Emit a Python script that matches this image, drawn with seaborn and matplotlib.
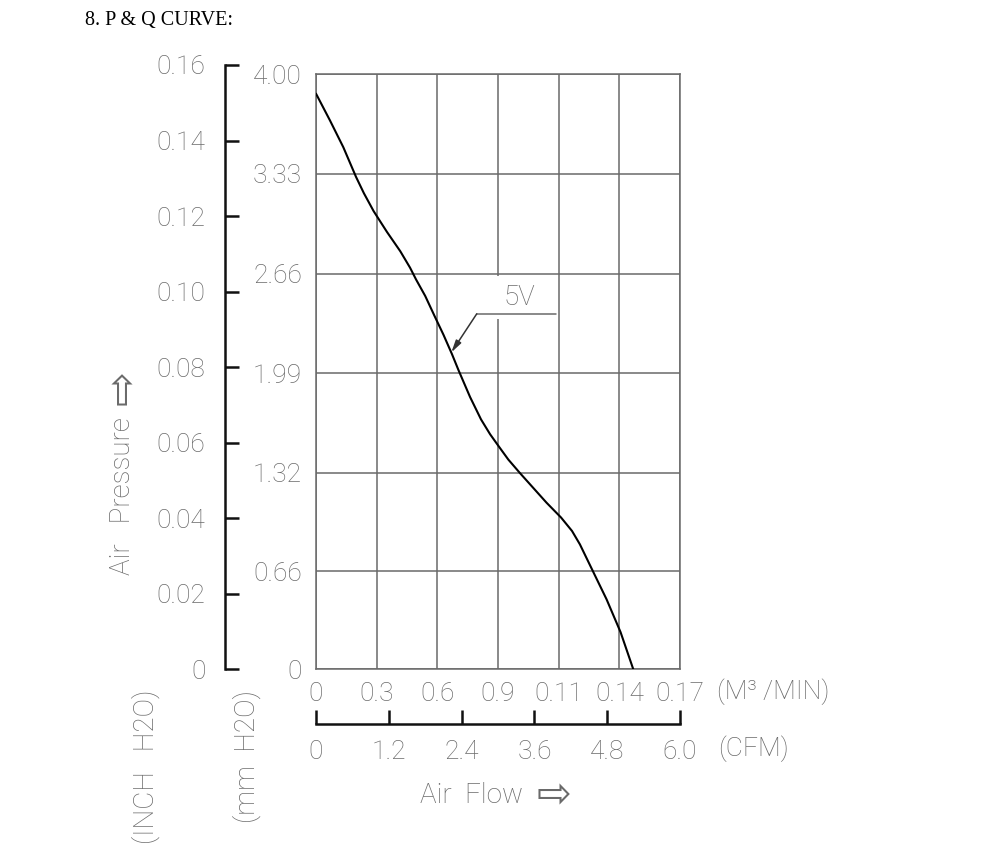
import matplotlib
matplotlib.use("Agg")
import matplotlib.pyplot as plt
import seaborn as sns
import pandas as pd

# P & Q curve (air flow in CFM, pressure in mm H2O)
flow_cfm = [0.0, 0.23, 0.45, 0.66, 0.79, 0.95, 1.17, 1.39, 1.55, 1.65, 1.80,
            1.96, 2.10, 2.24, 2.35, 2.54, 2.72, 2.87, 3.01, 3.17, 3.36, 3.58,
            3.80, 4.04, 4.22, 4.35, 4.54, 4.79, 5.02, 5.23]
pressure_mm = [3.87, 3.69, 3.51, 3.31, 3.20, 3.08, 2.94, 2.81, 2.70, 2.62, 2.51,
               2.37, 2.25, 2.12, 2.01, 1.83, 1.68, 1.58, 1.50, 1.41, 1.32, 1.22,
               1.12, 1.02, 0.93, 0.84, 0.68, 0.47, 0.25, 0.0]

# axis ticks and labels as printed on the drawing
mm_ticks = [0, 0.66, 1.32, 1.99, 2.66, 3.33, 4.00]
mm_labels = ["0", "0.66", "1.32", "1.99", "2.66", "3.33", "4.00"]
inch_ticks = [0, 0.02, 0.04, 0.06, 0.08, 0.10, 0.12, 0.14, 0.16]
inch_labels = ["0", "0.02", "0.04", "0.06", "0.08", "0.10", "0.12", "0.14", "0.16"]
grid_cfm = [0, 1, 2, 3, 4, 5, 6]
m3_labels = ["0", "0.3", "0.6", "0.9", "0.11", "0.14", "0.17"]
cfm_ticks = [0, 1.2, 2.4, 3.6, 4.8, 6.0]
cfm_labels = ["0", "1.2", "2.4", "3.6", "4.8", "6.0"]

curve = pd.DataFrame({"flow": flow_cfm, "pressure": pressure_mm})

sns.set_theme(style="white")
plt.rcParams["font.family"] = ["Roboto", "DejaVu Sans"]
plt.rcParams["font.weight"] = "light"

GRAY = "#6a6a6a"
FS = 19

fig = plt.figure(figsize=(10, 8.55), dpi=100)

# main grid box
ax = fig.add_axes([0.316, 0.2172, 0.364, 0.6959])
sns.lineplot(data=curve, x="flow", y="pressure", ax=ax, color="black",
             linewidth=1.5, zorder=5)
ax.set_xlim(0, 6)
ax.set_ylim(0, 4)
ax.set_xticks(grid_cfm)
ax.set_xticklabels(m3_labels)
ax.set_yticks(mm_ticks)
ax.set_yticklabels(mm_labels)
ax.set_xlabel("")
ax.set_ylabel("")
ax.grid(True, color=GRAY, linewidth=1.1)
ax.tick_params(axis="both", length=0, labelsize=FS, labelcolor=GRAY)
ax.tick_params(axis="x", pad=9)
ax.tick_params(axis="y", pad=10)
for s in ax.spines.values():
    s.set_color(GRAY)
    s.set_linewidth(1.1)

# 5V label with leader
ax.text(3.36, 2.50, "5V", fontsize=20, color=GRAY, ha="center", va="center",
        zorder=3, bbox=dict(facecolor="white", edgecolor="none", pad=6))
ax.plot([2.65, 3.96], [2.39, 2.39], color=GRAY, linewidth=1.1, zorder=4)
ax.annotate("", xy=(2.23, 2.13), xytext=(2.65, 2.39), zorder=4,
            arrowprops=dict(arrowstyle="-|>,head_length=0.6,head_width=0.15",
                            color="#333333", linewidth=1.1, shrinkA=0, shrinkB=0))

# inch H2O axis
ax_in = fig.add_axes([0.225, 0.2172, 0.01, 0.7068])
ax_in.set_facecolor("none")
ax_in.set_ylim(0, 0.16)
ax_in.set_yticks(inch_ticks)
ax_in.set_yticklabels(inch_labels)
ax_in.set_xticks([])
for side in ["top", "right", "bottom"]:
    ax_in.spines[side].set_visible(False)
ax_in.spines["left"].set_color("#111111")
ax_in.spines["left"].set_linewidth(1.8)
ax_in.tick_params(axis="y", direction="in", length=10, width=1.8, color="#111111",
                  pad=14, labelsize=FS, labelcolor=GRAY, left=True)

# CFM axis
ax_cfm = fig.add_axes([0.316, 0.1529, 0.364, 0.02])
ax_cfm.set_facecolor("none")
ax_cfm.set_xlim(0, 6)
ax_cfm.set_xticks(cfm_ticks)
ax_cfm.set_xticklabels(cfm_labels)
ax_cfm.set_yticks([])
for side in ["top", "right", "left"]:
    ax_cfm.spines[side].set_visible(False)
ax_cfm.spines["bottom"].set_color("#111111")
ax_cfm.spines["bottom"].set_linewidth(1.8)
ax_cfm.tick_params(axis="x", direction="in", length=10, width=1.8, color="#111111",
                   pad=11, labelsize=FS, labelcolor=GRAY, bottom=True)


def px(x, y):
    return x / 1000, 1 - y / 855


fig.text(*px(85, 21), "8. P & Q CURVE:", family="Liberation Serif", fontsize=14.5,
         color="black", ha="left", va="center", weight="normal")
fig.text(*px(717, 692), "(M³ /MIN)", fontsize=FS, color=GRAY, ha="left", va="center")
fig.text(*px(718, 749), "(CFM)", fontsize=FS, color=GRAY, ha="left", va="center")
fig.text(*px(146, 690), "(INCH   H2O)", fontsize=20, color=GRAY, ha="center",
         va="top", rotation=90)
fig.text(*px(247, 690), "(mm  H2O)", fontsize=20, color=GRAY, ha="center",
         va="top", rotation=90)

# axis titles with hollow arrows (arrow glyph drawn in DejaVu Sans)
flow_txt = fig.text(*px(420, 795), "Air  Flow", fontsize=20, color=GRAY,
                    ha="left", va="center")
pres_txt = fig.text(*px(123, 575), "Air   Pressure", fontsize=20, color=GRAY,
                    ha="center", va="bottom", rotation=90)
fig.canvas.draw()
inv = fig.transFigure.inverted()
fb = flow_txt.get_window_extent().transformed(inv)
pb = pres_txt.get_window_extent().transformed(inv)
fig.text(fb.x1 + 0.014, fb.y0 + fb.height / 2, "⇨", family="DejaVu Sans",
         weight="normal", fontsize=30, color=GRAY, ha="left", va="center")
fig.text(pb.x0 + pb.width / 2, pb.y1 + 0.014, "⇨", family="DejaVu Sans",
         weight="normal", fontsize=30, color=GRAY, ha="center", va="bottom",
         rotation=90)

fig.savefig("out.png", dpi=100, facecolor="white")
